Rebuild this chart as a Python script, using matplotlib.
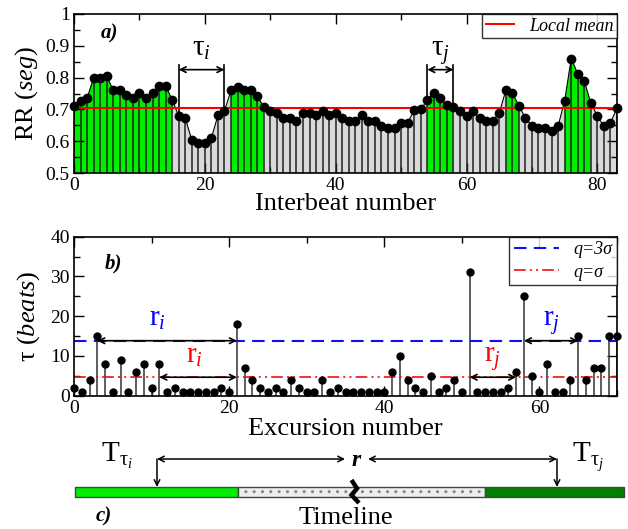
import numpy as np
import matplotlib
matplotlib.use("Agg")
import matplotlib.pyplot as plt
from matplotlib.ticker import MultipleLocator, FuncFormatter
from matplotlib.patches import Rectangle

plt.rcParams['font.family'] = ['Liberation Serif', 'DejaVu Serif']
plt.rcParams['mathtext.fontset'] = 'custom'
plt.rcParams['mathtext.rm'] = 'Liberation Serif'
plt.rcParams['mathtext.it'] = 'Liberation Serif:italic'
plt.rcParams['mathtext.bf'] = 'Liberation Serif:bold'

# ---------------- data ----------------
rr_values = [0.711, 0.727, 0.735, 0.800, 0.800, 0.805, 0.760, 0.760, 0.745, 0.735,
             0.752, 0.735, 0.752, 0.775, 0.775, 0.730, 0.680, 0.673, 0.604, 0.594,
             0.594, 0.610, 0.681, 0.695, 0.760, 0.769, 0.760, 0.760, 0.743, 0.708,
             0.695, 0.688, 0.673, 0.673, 0.665, 0.688, 0.688, 0.681, 0.696, 0.681,
             0.688, 0.674, 0.665, 0.665, 0.681, 0.665, 0.665, 0.648, 0.641, 0.641,
             0.658, 0.658, 0.697, 0.700, 0.729, 0.753, 0.737, 0.713, 0.707, 0.694,
             0.680, 0.695, 0.673, 0.665, 0.665, 0.688, 0.760, 0.752, 0.712, 0.673,
             0.648, 0.641, 0.641, 0.633, 0.648, 0.727, 0.860, 0.812, 0.789, 0.720,
             0.679, 0.647, 0.658, 0.704]
local_mean = 0.703

tau_values = [2, 1, 4, 15, 8, 1, 9, 1, 6, 8,
              2, 8, 1, 2, 1, 1, 1, 1, 1, 2,
              1, 18, 7, 4, 2, 1, 2, 1, 4, 2,
              1, 1, 4, 1, 2, 1, 1, 1, 1, 1,
              1, 6, 10, 4, 2, 1, 5, 1, 2, 4,
              1, 31, 1, 1, 1, 1, 2, 6, 25, 5,
              1, 8, 1, 1, 4, 15, 4, 7, 7, 15, 15]
q_3sigma = 13.8
q_sigma = 4.6

tau_i_span = (16, 23)
tau_j_span = (54, 58)
r_i_big = (3, 21)
r_i_small = (11, 21)
r_j_small = (51, 57)
r_j_big = (58, 65)

W, H = 628, 529
fig = plt.figure(figsize=(W / 100, H / 100), dpi=100)

def px_axes(l, r, t, b):
    return fig.add_axes([l / W, 1 - b / H, (r - l) / W, (b - t) / H])

GREEN = '#00ee00'
GREY = '#d9d9d9'

def style_axes(ax):
    ax.tick_params(which='both', direction='in', top=True, right=True, labelsize=14, pad=3)
    ax.tick_params(which='major', length=7, width=1)
    ax.tick_params(which='minor', length=4, width=1)
    for s in ax.spines.values():
        s.set_linewidth(1.2)

# ---------------- panel a ----------------
ax1 = px_axes(74, 617, 14, 173)
x = np.arange(len(rr_values))
rr = np.array(rr_values)
ax1.fill_between(x, 0.5, rr, color=GREY, lw=0)
ax1.fill_between(x, 0.5, rr, where=rr > local_mean, color=GREEN, lw=0)
ax1.vlines(x, 0.5, rr, color='#222222', lw=1.1)
ax1.plot(x, rr, '-', color='black', lw=0.8)
ax1.plot(x, rr, 'o', color='black', ms=6, clip_on=False, zorder=5)
ax1.axhline(local_mean, color='red', lw=1.5, label='Local mean', zorder=4)
ax1.set_xlim(0, 83)
ax1.set_ylim(0.5, 1.0)
ax1.xaxis.set_major_locator(MultipleLocator(20))
ax1.xaxis.set_minor_locator(MultipleLocator(10))
ax1.yaxis.set_major_locator(MultipleLocator(0.1))
ax1.yaxis.set_minor_locator(MultipleLocator(0.05))
ax1.yaxis.set_major_formatter(FuncFormatter(lambda v, p: '%g' % round(v, 2)))
style_axes(ax1)
ax1.set_ylabel(r'RR ($seg$)', fontsize=19, labelpad=4)
ax1.set_xlabel('Interbeat number', fontsize=19, labelpad=-1)
leg = ax1.legend(loc='upper right', frameon=True, fancybox=False,
                 edgecolor='black', handlelength=1.6, borderpad=0.2,
                 borderaxespad=0.0, prop={'style': 'italic', 'size': 13})
leg.get_frame().set_linewidth(1.0)
ax1.text(0.05, 0.88, 'a)', transform=ax1.transAxes, fontsize=15,
         fontweight='bold', fontstyle='italic', va='center')

arrow_y = 0.825
for (a, b), lab in [(tau_i_span, r'$\mathrm{τ}_i$'), (tau_j_span, r'$\mathrm{τ}_j$')]:
    ax1.plot([a, a], [rr[a], arrow_y + 0.015], color='black', lw=1.2)
    ax1.plot([b, b], [rr[b], arrow_y + 0.015], color='black', lw=1.2)
    ax1.annotate('', xy=(b, arrow_y), xytext=(a, arrow_y),
                 arrowprops=dict(arrowstyle='<->', lw=1.2, color='black',
                                 shrinkA=0, shrinkB=0, mutation_scale=10))
    ax1.text((a + b) / 2, 0.868, lab, fontsize=21, ha='center', va='baseline')

# ---------------- panel b ----------------
ax2 = px_axes(74, 617, 236.7, 395.5)
k = np.arange(len(tau_values))
tau = np.array(tau_values)
ax2.vlines(k, 0, tau, color='#333333', lw=1.1)
ax2.plot(k, tau, 'o', color='black', ms=5, clip_on=False, zorder=5)
ax2.axhline(q_3sigma, color='#1010ee', lw=1.5, ls=(0, (6, 3.5)), label='q=3σ')
ax2.axhline(q_sigma, color='#ee1010', lw=1.2, ls=(0, (7, 2.5, 1.2, 2.5, 1.2, 2.5)), label='q=σ')
ax2.set_xlim(0, 70)
ax2.set_ylim(0, 40)
ax2.xaxis.set_major_locator(MultipleLocator(20))
ax2.xaxis.set_minor_locator(MultipleLocator(10))
ax2.yaxis.set_major_locator(MultipleLocator(10))
ax2.yaxis.set_minor_locator(MultipleLocator(5))
style_axes(ax2)
ax2.set_ylabel(r'τ ($beats$)', fontsize=19, labelpad=6)
ax2.set_xlabel('Excursion number', fontsize=19, labelpad=1)
leg2 = ax2.legend(loc='upper right', frameon=True, fancybox=False, edgecolor='black',
                  handlelength=2.5, borderpad=0.25, borderaxespad=0.0, labelspacing=0.3,
                  prop={'style': 'italic', 'size': 13})
leg2.get_frame().set_linewidth(1.0)
ax2.text(0.057, 0.83, 'b)', transform=ax2.transAxes, fontsize=15,
         fontweight='bold', fontstyle='italic', va='center')

for (a, b), yv, col, tx, ty, lab in [
        (r_i_big, q_3sigma, 'blue', 10.8, 17.6, r'r$_i$'),
        (r_i_small, q_sigma, 'red', 15.5, 8.2, r'r$_i$'),
        (r_j_small, q_sigma, 'red', 54.0, 8.5, r'r$_j$'),
        (r_j_big, q_3sigma, 'blue', 61.5, 17.6, r'r$_j$')]:
    ax2.annotate('', xy=(b, yv), xytext=(a, yv),
                 arrowprops=dict(arrowstyle='<->', lw=1.2, color='black',
                                 shrinkA=0, shrinkB=0, mutation_scale=10))
    ax2.text(tx, ty, lab, color=col, fontsize=21, ha='center', va='baseline')

# ---------------- panel c (timeline schematic) ----------------
ax3 = fig.add_axes([0, 0, 1, 1])
ax3.set_xlim(0, W)
ax3.set_ylim(H, 0)
ax3.axis('off')
bar_top, bar_h = 487, 10
ax3.add_patch(Rectangle((75, bar_top), 163, bar_h, facecolor=GREEN, edgecolor='#444444', lw=1))
ax3.add_patch(Rectangle((238, bar_top), 247, bar_h, facecolor='#eeeeee', edgecolor='#888888',
                        hatch='..', lw=0))
ax3.add_patch(Rectangle((238, bar_top), 247, bar_h, facecolor='none', edgecolor='#444444', lw=1))
ax3.add_patch(Rectangle((485, bar_top), 139, bar_h, facecolor='#008000', edgecolor='#444444', lw=1))
ax3.plot([351.5, 357, 351.5, 359], [480, 488.5, 495, 503], color='black', lw=3.2,
         solid_joinstyle='miter', solid_capstyle='butt')
for xa in (157, 557):
    ax3.annotate('', xy=(xa, bar_top), xytext=(xa, 459),
                 arrowprops=dict(arrowstyle='->', lw=1.1, color='black',
                                 shrinkA=0, shrinkB=0, mutation_scale=10))
ax3.annotate('', xy=(345, 459), xytext=(157, 459),
             arrowprops=dict(arrowstyle='<->', lw=1.1, color='black',
                             shrinkA=0, shrinkB=0, mutation_scale=10))
ax3.annotate('', xy=(557, 459), xytext=(368, 459),
             arrowprops=dict(arrowstyle='<->', lw=1.1, color='black',
                             shrinkA=0, shrinkB=0, mutation_scale=10))
ax3.text(356, 460, 'r', fontsize=17, fontweight='bold', fontstyle='italic',
         ha='center', va='center')
ax3.text(101, 462, r'T$_{\mathrm{τ}_i}$', fontsize=21, ha='left', va='baseline')
ax3.text(572, 462, r'T$_{\mathrm{τ}_j}$', fontsize=21, ha='left', va='baseline')
ax3.text(104, 516, 'c)', fontsize=15, fontweight='bold', fontstyle='italic',
         ha='center', va='center')
ax3.text(346, 518, 'Timeline', fontsize=19, ha='center', va='center')

fig.savefig('out.png', dpi=100)
